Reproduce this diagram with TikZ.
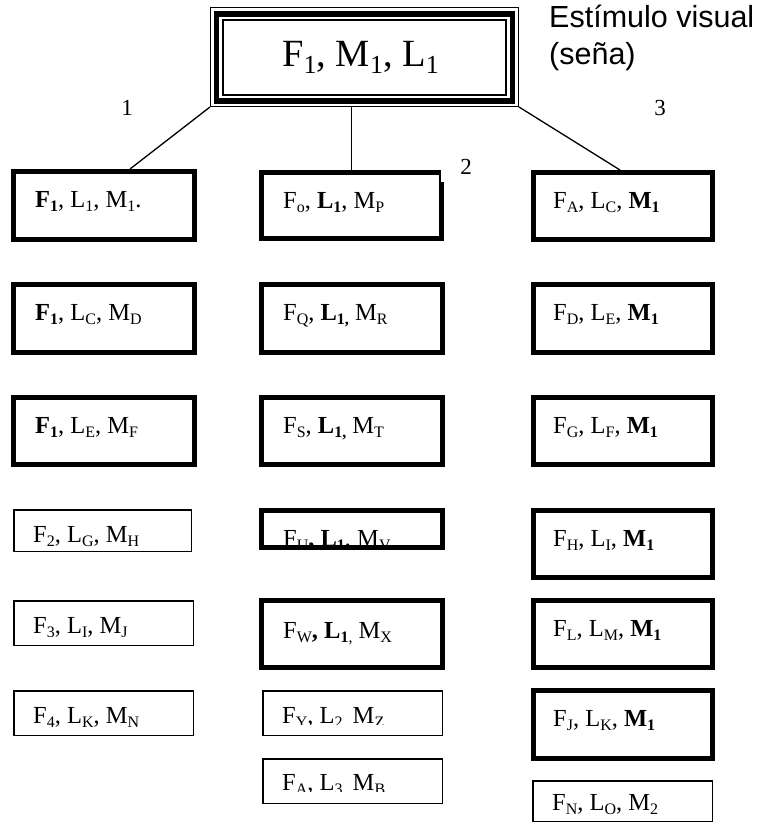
\documentclass[tikz,border=0pt]{standalone}
\usepackage{fontspec}
\setmainfont{Liberation Serif}
\newfontfamily\arialfont{Liberation Sans}

% lowered, smaller index used in every cell
\newcommand\lo[1]{\raisebox{-4.5pt}{\fontsize{16}{16}\selectfont #1}}
\newcommand\lotop[1]{\raisebox{-7pt}{\fontsize{26}{26}\selectfont #1}}

\tikzset{
  cellbox/.style={draw, inner sep=0pt, fill=white},
  celltext/.style={anchor=base west, inner sep=0pt, font=\fontsize{24.5}{28}\selectfont},
  link/.style={line width=1.3pt},
  numlabel/.style={inner sep=0pt, font=\fontsize{23}{26}\selectfont},
}

% #1 name, #2 line width, #3 x1, #4 y1, #5 x2, #6 y2 (outer edges), #7 dx, #8 dy of text baseline, #9 text
\newcommand\cell[9]{%
  \node[cellbox, line width=#2pt, minimum width={#5-#3-#2}, minimum height={#6-#4-#2}]
    (#1) at ({(#3+#5)/2},{(#4+#6)/2}) {};
  \node[celltext] (#1-t) at ({#3+#7},{#4+#8}) {#9};
}
% same, with the text (\celltxt) cut off below the line y = #9
\newcommand\clipcell[9]{%
  \node[cellbox, line width=#2pt, minimum width={#5-#3-#2}, minimum height={#6-#4-#2}]
    (#1) at ({(#3+#5)/2},{(#4+#6)/2}) {};
  \begin{scope}
    \clip ({#3},{#4}) rectangle ({#5},{#9});
    \node[celltext] (#1-t) at ({#3+#7},{#4+#8}) {\celltxt};
  \end{scope}
}

\begin{document}
\begin{tikzpicture}[x=1pt, y=-1pt]
\useasboundingbox (0,0) rectangle (756,824);

% title frame: thin, thick, thin
\node[draw, line width=1.3pt, inner sep=0pt, minimum width=307.7pt, minimum height=98.7pt]
  (top) at (364.5,57) {};
\draw[line width=5.5pt] ([xshift=6.5pt,yshift=-6.8pt]top.north west) rectangle ([xshift=-6.5pt,yshift=6.2pt]top.south east);
\draw[line width=1.3pt] ([xshift=13pt,yshift=-13pt]top.north west) rectangle ([xshift=-13pt,yshift=12pt]top.south east);
\node[anchor=base west, inner sep=0pt, font=\fontsize{38.5}{42}\selectfont] (top-t) at (282,67)
  {F\lotop{1}, M\lotop{1}, L\lotop{1}};

\node[anchor=base west, inner sep=0pt, font=\arialfont\fontsize{30.5}{34}\selectfont] (cap1) at (549,28) {Estímulo visual};
\node[anchor=base west, inner sep=0pt, font=\arialfont\fontsize{30.5}{34}\selectfont] (cap2) at (549,65) {(seña)};

% column 1
\cell{a1}{5}{11}{169}{197}{242}{24}{38}{\textbf{F\lo{1}}, L\lo{1}, M\lo{1}.}
\cell{a2}{5}{11}{282}{197}{355}{24}{38}{\textbf{F\lo{1}}, L\lo{C}, M\lo{D}}
\cell{a3}{5}{11}{395}{197}{467}{24}{38}{\textbf{F\lo{1}}, L\lo{E}, M\lo{F}}
\cell{a4}{1.5}{13}{509}{192}{552}{20}{33}{F\lo{2}, L\lo{G}, M\lo{H}}
\def\celltxt{F\lo{3}, L\lo{I}, M\lo{J}}
\clipcell{a5}{1.5}{13}{600}{194}{646}{20}{33}{636}
\cell{a6}{1.5}{13}{690}{194}{736}{20}{33}{F\lo{4}, L\lo{K}, M\lo{N}}

% column 2
\cell{b1}{5}{259}{170}{444}{241}{24}{38}{F\lo{o}, \textbf{L\lo{1}}, M\lo{P}}
\cell{b2}{5}{259}{282}{445}{355}{24}{38}{F\lo{Q}, \textbf{L\lo{1,}} M\lo{R}}
\cell{b3}{5}{259}{395}{445}{467}{24}{38}{F\lo{S}, \textbf{L\lo{1,}} M\lo{T}}
\def\celltxt{F\lo{U}\textbf{,} \textbf{L\lo{1}}, M\lo{V}}
\clipcell{b4}{5}{259}{508}{445}{550}{24}{38}{545}
\cell{b5}{5}{259}{598}{445}{670}{24}{40}{F\lo{W}\textbf{,} \textbf{L\lo{1}}\lo{,} M\lo{X}}
\def\celltxt{F\lo{Y}, L\lo{2,} M\lo{Z}}
\clipcell{b6}{1.5}{262}{690}{443}{736}{20}{33}{724}
\def\celltxt{F\lo{A}, L\lo{3,} M\lo{B}}
\clipcell{b7}{1.5}{262}{758}{443}{804}{20}{32}{791}

% column 3
\cell{c1}{5}{531}{170}{715}{242}{22}{38}{F\lo{A}, L\lo{C}, \textbf{M\lo{1}}}
\cell{c2}{5}{531}{282}{715}{355}{22}{38}{F\lo{D}, L\lo{E}, \textbf{M\lo{1}}}
\cell{c3}{5}{531}{395}{715}{467}{22}{38}{F\lo{G}, L\lo{F}, \textbf{M\lo{1}}}
\cell{c4}{5}{531}{508}{715}{580}{22}{38}{F\lo{H}, L\lo{I}, \textbf{M\lo{1}}}
\cell{c5}{5}{531}{598}{715}{670}{22}{38}{F\lo{L}, L\lo{M}, \textbf{M\lo{1}}}
\cell{c6}{5}{531}{688}{715}{761}{22}{38}{F\lo{J}, L\lo{K}, \textbf{M\lo{1}}}
\cell{c7}{1.5}{532}{780}{713}{822}{20}{30}{F\lo{N}, L\lo{O}, M\lo{2}}

% connectors from the title frame to the first row
\draw[link] (top.south west) -- ([xshift=26pt]a1.north);
\draw[link] (b1.north |- top.south) -- (b1.north);
\draw[link] (top.south east) -- ([xshift=-3pt]c1.north);

% branch numbers (the white ground of "2" hides the corner of b1)
\node[numlabel] (n1) at (127,108) {1};
\node[numlabel, fill=white, minimum width=50pt, minimum height=30pt] (n2) at (466,167) {2};
\node[numlabel] (n3) at (660,108) {3};
\end{tikzpicture}
\end{document}
